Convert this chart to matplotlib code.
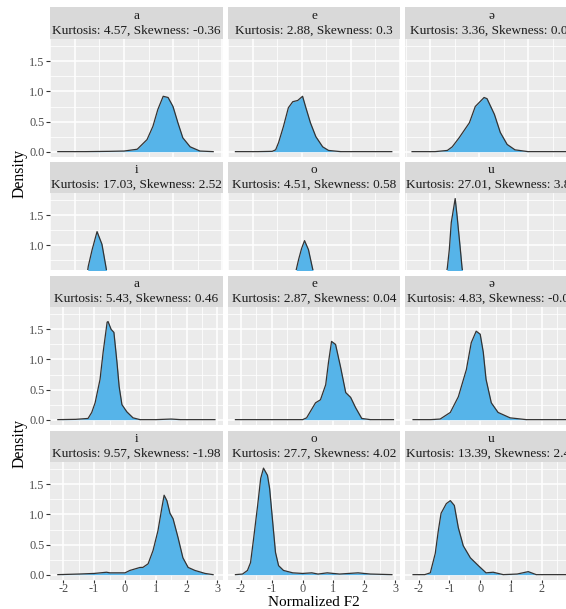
import matplotlib
matplotlib.use('Agg')
import matplotlib.pyplot as plt
import numpy as np

# ---------------- data ----------------
vowels = ['a', 'e', 'ə', 'i', 'o', 'u']

# top chart (cropped) : kurtosis / skewness labels
top_kurtosis = ['4.57', '2.88', '3.36', '17.03', '4.51', '27.01']
top_skewness = ['-0.36', '0.3', '0.05', '2.52', '0.58', '3.84']
# bottom chart: kurtosis / skewness labels
bot_kurtosis = ['5.43', '2.87', '4.83', '9.57', '27.7', '13.39']
bot_skewness = ['0.46', '0.04', '-0.07', '-1.98', '4.02', '2.45']

# top chart density curves
top_a_x = [-1.35, -0.8, -0.3, 0.0, 0.27, 0.47, 0.59, 0.69, 0.80, 0.90, 1.00, 1.10, 1.20, 1.35, 1.55, 1.82]
top_a_y = [0.0, 0.0, 0.005, 0.01, 0.04, 0.20, 0.42, 0.70, 0.92, 0.90, 0.75, 0.48, 0.23, 0.08, 0.01, 0.0]
top_e_x = [-1.35, -0.9, -0.6, -0.53, -0.47, -0.37, -0.27, -0.18, -0.08, 0.02, 0.08, 0.18, 0.29, 0.43, 0.55, 0.8, 1.84]
top_e_y = [0.0, 0.0, 0.005, 0.03, 0.15, 0.42, 0.73, 0.83, 0.85, 0.92, 0.75, 0.48, 0.25, 0.08, 0.02, 0.0, 0.0]
top_schwa_x = [-1.37, -0.9, -0.65, -0.55, -0.41, -0.2, -0.08, 0.10, 0.16, 0.31, 0.43, 0.57, 0.73, 1.0, 1.83]
top_schwa_y = [0.0, 0.0, 0.02, 0.08, 0.23, 0.48, 0.75, 0.90, 0.88, 0.62, 0.32, 0.12, 0.03, 0.0, 0.0]
top_i_x = [-1.36, -1.0, -0.85, -0.78, -0.73, -0.65, -0.55, -0.45, -0.37, -0.3, -0.2, 0.0, 0.5, 1.0, 1.83]
top_i_y = [0.0, 0.01, 0.10, 0.35, 0.65, 0.93, 1.23, 1.02, 0.65, 0.30, 0.10, 0.03, 0.02, 0.01, 0.0]
top_o_x = [-1.36, -0.6, -0.3, -0.18, -0.10, -0.06, 0.0, 0.06, 0.14, 0.22, 0.3, 0.45, 0.8, 1.83]
top_o_y = [0.0, 0.01, 0.10, 0.35, 0.63, 0.77, 0.95, 1.08, 0.93, 0.63, 0.35, 0.12, 0.03, 0.0]
top_u_x = [-1.36, -0.9, -0.75, -0.65, -0.61, -0.57, -0.49, -0.45, -0.39, -0.35, -0.28, -0.15, 0.3, 1.83]
top_u_y = [0.0, 0.01, 0.15, 0.63, 0.93, 1.38, 1.78, 1.48, 0.98, 0.63, 0.25, 0.06, 0.02, 0.0]

# bottom chart density curves (Normalized F2)
bot_a_x = [-2.18, -1.6, -1.2, -1.08, -0.97, -0.81, -0.71, -0.58, -0.55, -0.45, -0.36, -0.26, -0.19, -0.10, 0.06, 0.26, 0.49, 1.0, 1.5, 1.8, 2.2, 2.92]
bot_a_y = [0.0, 0.005, 0.02, 0.12, 0.28, 0.67, 1.12, 1.62, 1.63, 1.50, 1.45, 0.95, 0.55, 0.25, 0.13, 0.03, 0.0, 0.0, 0.01, 0.0, 0.0, 0.0]
bot_e_x = [-2.18, -0.5, 0.0, 0.13, 0.42, 0.58, 0.75, 0.84, 0.94, 1.07, 1.23, 1.40, 1.56, 1.72, 1.92, 2.2, 2.95]
bot_e_y = [0.0, 0.0, 0.0, 0.03, 0.28, 0.33, 0.58, 0.95, 1.30, 1.25, 0.88, 0.45, 0.37, 0.20, 0.02, 0.0, 0.0]
bot_schwa_x = [-2.18, -1.6, -1.3, -0.97, -0.71, -0.45, -0.29, -0.13, 0.0, 0.10, 0.19, 0.36, 0.58, 0.97, 1.5, 2.9]
bot_schwa_y = [0.0, 0.0, 0.01, 0.12, 0.38, 0.83, 1.28, 1.47, 1.42, 1.12, 0.67, 0.28, 0.12, 0.03, 0.0, 0.0]
bot_i_x = [-2.18, -1.5, -1.0, -0.6, -0.49, 0.0, 0.16, 0.49, 0.58, 0.75, 0.91, 1.07, 1.20, 1.27, 1.36, 1.46, 1.56, 1.72, 1.88, 2.05, 2.27, 2.6, 2.86]
bot_i_y = [0.0, 0.01, 0.02, 0.04, 0.03, 0.03, 0.07, 0.12, 0.12, 0.18, 0.40, 0.73, 1.12, 1.32, 1.23, 1.02, 0.93, 0.62, 0.28, 0.12, 0.07, 0.02, 0.0]
bot_o_x = [-2.18, -1.95, -1.79, -1.69, -1.59, -1.46, -1.36, -1.27, -1.14, -1.07, -0.97, -0.88, -0.78, -0.62, -0.32, 0.0, 0.3, 0.5, 0.8, 1.2, 1.5, 1.8, 2.2, 2.9]
bot_o_y = [0.0, 0.01, 0.07, 0.20, 0.60, 1.15, 1.60, 1.77, 1.65, 1.43, 0.87, 0.37, 0.15, 0.07, 0.03, 0.02, 0.03, 0.01, 0.03, 0.01, 0.02, 0.03, 0.01, 0.0]
bot_u_x = [-2.18, -1.8, -1.62, -1.46, -1.36, -1.27, -1.10, -0.97, -0.84, -0.71, -0.55, -0.32, -0.06, 0.19, 0.42, 0.75, 1.2, 1.56, 1.82, 2.92]
bot_u_y = [0.0, 0.0, 0.03, 0.35, 0.73, 1.02, 1.18, 1.23, 1.15, 0.78, 0.48, 0.28, 0.15, 0.03, 0.04, 0.0, 0.01, 0.05, 0.0, 0.0]

top_curves = [(top_a_x, top_a_y), (top_e_x, top_e_y), (top_schwa_x, top_schwa_y),
              (top_i_x, top_i_y), (top_o_x, top_o_y), (top_u_x, top_u_y)]
bot_curves = [(bot_a_x, bot_a_y), (bot_e_x, bot_e_y), (bot_schwa_x, bot_schwa_y),
              (bot_i_x, bot_i_y), (bot_o_x, bot_o_y), (bot_u_x, bot_u_y)]

y_ticks = [0.0, 0.5, 1.0, 1.5]
y_tick_labels = ['0.0', '0.5', '1.0', '1.5']
bot_x_ticks = [-2, -1, 0, 1, 2, 3]
bot_x_tick_labels = ['-2', '-1', '0', '1', '2', '3']
top_x_ticks = [-1, 0, 1, 2]

# ---------------- layout ----------------
W, H = 566, 609
fig = plt.figure(figsize=(W / 100, H / 100), dpi=100)
SERIF = ['Liberation Serif', 'DejaVu Serif']
FILL = '#56B4E9'
LINE = '#333333'


def rect(x0, y0, x1, y1):
    return [x0 / W, 1 - y1 / H, (x1 - x0) / W, (y1 - y0) / H]


cols = [(50, 222.7), (227.6, 400.3), (405.2, 577.9)]
YLIM_FULL = (-0.089, 1.872)

# rows: (strip_top, strip_bottom, panel_top, panel_bottom, ylim, chart, row)
rows = [
    (7, 39, 39, 157, YLIM_FULL, 'top', 0),
    (162, 193, 193, 270, (0.592, 1.872), 'top', 1),
    (276, 307, 307, 425, YLIM_FULL, 'bot', 0),
    (431, 462, 462, 580, YLIM_FULL, 'bot', 1),
]

top_xlim = (-1.51, 2.014)
bot_xlim = (-2.435, 3.172)

for (s0, s1, p0, p1, ylim, chart, r) in rows:
    for c, (x0, x1) in enumerate(cols):
        idx = r * 3 + c
        if chart == 'top':
            cx, cy = top_curves[idx]
            xlim = top_xlim
            kur, skw = top_kurtosis[idx], top_skewness[idx]
            xmaj = top_x_ticks
        else:
            cx, cy = bot_curves[idx]
            xlim = bot_xlim
            kur, skw = bot_kurtosis[idx], bot_skewness[idx]
            xmaj = bot_x_ticks
        xmin = [v + 0.5 for v in np.arange(-4, 4)]
        ax = fig.add_axes(rect(x0, p0, x1, p1))
        ax.set_facecolor('#EBEBEB')
        ax.set_xticks(xmaj)
        ax.set_xticks([m for m in xmin if xlim[0] < m < xlim[1]], minor=True)
        ax.set_yticks(y_ticks)
        ax.set_yticks([0.25, 0.75, 1.25, 1.75], minor=True)
        ax.grid(which='major', color='white', lw=1.1)
        ax.grid(which='minor', color='white', lw=0.55)
        ax.set_axisbelow(True)
        for sp in ax.spines.values():
            sp.set_visible(False)
        ax.fill_between(cx, cy, 0, color=FILL, lw=0, zorder=2)
        ax.plot(cx, cy, color=LINE, lw=0.9, zorder=3, solid_joinstyle='round')

        show_y = (c == 0)
        show_x = (chart == 'bot' and r == 1)
        ax.tick_params(which='minor', length=0)
        ax.tick_params(which='major', length=2.6, width=0.8, color='#333333',
                       labelsize=8.8, labelcolor='#4D4D4D', pad=1.2,
                       left=show_y, labelleft=show_y,
                       bottom=show_x, labelbottom=show_x)
        if show_x:
            ax.tick_params(axis='x', pad=0.2, length=2.2)
        if show_y:
            ax.set_yticklabels(y_tick_labels, family=SERIF)
        if show_x:
            ax.set_xticklabels(bot_x_tick_labels, family=SERIF)
        # limits after ticks (set_ticks may expand the view)
        ax.set_xlim(xlim)
        ax.set_ylim(ylim)

        # strip
        sa = fig.add_axes(rect(x0, s0, x1, s1))
        sa.set_facecolor('#D9D9D9')
        sa.set_xticks([]); sa.set_yticks([])
        for sp in sa.spines.values():
            sp.set_visible(False)
        sa.text(0.5, 0.73, vowels[idx], ha='center', va='center',
                fontsize=9.5, color='#1A1A1A', family=SERIF, transform=sa.transAxes)
        sa.text(0.5, 0.26, f'Kurtosis: {kur}, Skewness: {skw}', ha='center', va='center',
                fontsize=9.5, color='#1A1A1A', family=SERIF, transform=sa.transAxes)

# axis titles
fig.text(20 / W, 1 - 174 / H, 'Density', rotation=90, ha='center', va='center',
         fontsize=11.3, color='black', family=SERIF)
fig.text(20 / W, 1 - 443 / H, 'Density', rotation=90, ha='center', va='center',
         fontsize=11.3, color='black', family=SERIF)
fig.text(314 / W, 0.5 / H, 'Normalized F2', ha='center', va='bottom',
         fontsize=11.0, color='black', family=SERIF)

fig.savefig('out.png', dpi=100)
